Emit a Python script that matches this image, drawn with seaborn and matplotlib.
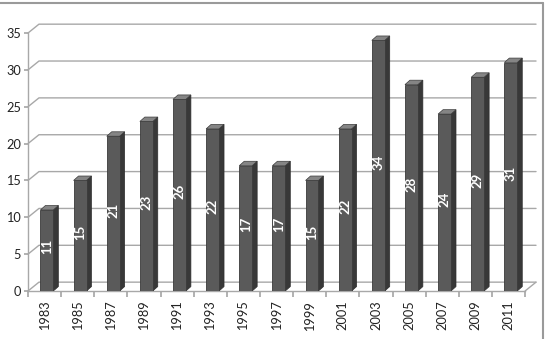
import matplotlib
matplotlib.use('Agg')
import numpy as np
import pandas as pd
import matplotlib.pyplot as plt
import seaborn as sns
from matplotlib.patches import Polygon
from matplotlib.lines import Line2D

# data
years = ['1983', '1985', '1987', '1989', '1991', '1993', '1995', '1997',
         '1999', '2001', '2003', '2005', '2007', '2009', '2011']
values = [11, 15, 21, 23, 26, 22, 17, 17, 15, 22, 34, 28, 24, 29, 31]
y_ticks = [0, 5, 10, 15, 20, 25, 30, 35]

sns.set_theme(style='white')
plt.rcParams['font.family'] = ['Lato', 'DejaVu Sans']

df = pd.DataFrame({'year': years, 'value': values})
n = len(years)

fig = plt.figure(figsize=(5.56, 3.39), dpi=100)
ax = fig.add_axes([0.0504, 0.1416, 0.894, 0.761])

grid_c = '#a8a8a8'
dx, dy = 0.33, 1.2      # depth of the back wall

# back wall grid lines with the little diagonals on the left
for t in y_ticks:
    ax.plot([-0.5, -0.5 + dx, n - 0.5 + dx], [t, t + dy, t + dy],
            color=grid_c, lw=1, clip_on=False, zorder=0)
# floor right diagonal
ax.plot([n - 0.5, n - 0.5 + dx], [0, dy], color=grid_c, lw=1, clip_on=False, zorder=0)

# front faces through seaborn
sns.barplot(data=df, x='year', y='value', width=0.39, color='#5a5a5a',
            saturation=1, edgecolor='#3a3a3a', linewidth=0.6, ax=ax, zorder=3)

# fake 3d: side and top of each bar
bdx, bdy = 0.15, 0.6
for p, v in zip(ax.patches, values):
    p.set_x(p.get_x() + 0.07)
    x0 = p.get_x()
    x1 = x0 + p.get_width()
    h = p.get_height()
    side = Polygon([(x1, 0), (x1 + bdx, bdy), (x1 + bdx, h + bdy), (x1, h)],
                   closed=True, facecolor='#383838', edgecolor='#2e2e2e', lw=0.5, zorder=2)
    top = Polygon([(x0, h), (x1, h), (x1 + bdx, h + bdy), (x0 + bdx, h + bdy)],
                  closed=True, facecolor='#858585', edgecolor='#3a3a3a', lw=0.5, zorder=4)
    ax.add_patch(side)
    ax.add_patch(top)
    ax.text(x0 + p.get_width() / 2, h / 2 + 0.5, str(v), rotation=90,
            color='white', ha='center', va='center', fontsize=9.5,
            fontweight='bold', zorder=5)

ax.set_xlim(-0.5, n - 0.5)
ax.set_ylim(0, 35)
ax.set_xlabel('')
ax.set_ylabel('')

# ticks at boundaries, labels at centres
ax.set_xticks(np.arange(n + 1) - 0.5)
ax.set_xticklabels([])
ax.set_xticks(np.arange(n), minor=True)
ax.set_xticklabels(years, minor=True, rotation=90, va='top', ha='center',
                   fontsize=9.2, color='#222222')
ax.tick_params(axis='x', which='major', length=4, color=grid_c, bottom=True)
ax.tick_params(axis='x', which='minor', length=0, pad=7, bottom=True)
ax.set_yticks(y_ticks)
ax.set_yticklabels([str(t) for t in y_ticks], fontsize=9.2, color='#222222')
ax.tick_params(axis='y', length=3, color=grid_c, left=True, pad=2)

for s in ['top', 'right']:
    ax.spines[s].set_visible(False)
for s in ['left', 'bottom']:
    ax.spines[s].set_color(grid_c)
    ax.spines[s].set_linewidth(1)
ax.patch.set_alpha(0)

# outer frame (top and right edge visible)
fx = 543 / 556
fy = 1 - 3 / 339
fig.add_artist(Line2D([0, fx], [fy, fy], color='#9a9a9a', lw=1.5))
fig.add_artist(Line2D([fx, fx], [0, fy], color='#9a9a9a', lw=1.5))

fig.savefig('out.png', dpi=100)
